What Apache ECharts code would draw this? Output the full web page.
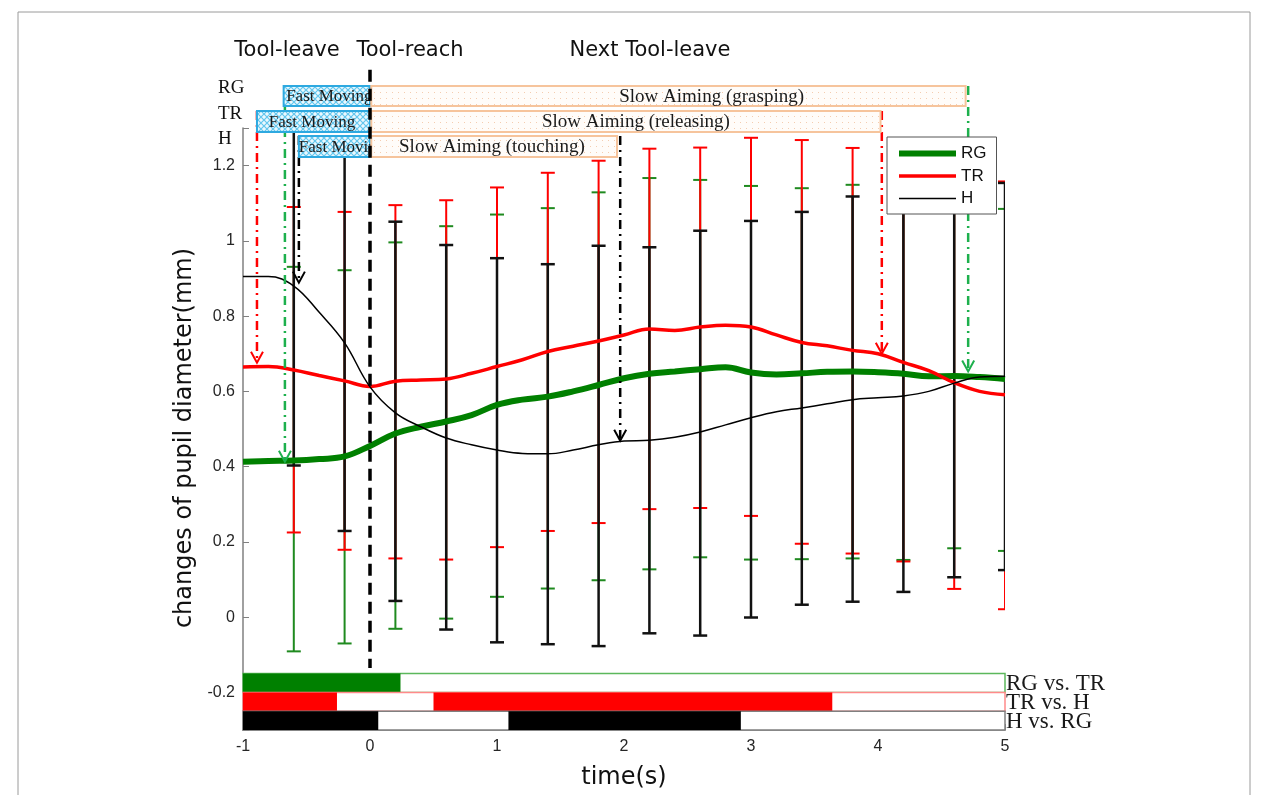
<!DOCTYPE html>
<html>
<head>
<meta charset="utf-8">
<script src="https://cdn.jsdelivr.net/npm/echarts@6/dist/echarts.min.js"></script>
<style>
html, body { margin: 0; padding: 0; background: #fff; }
#chart { width: 1261px; height: 795px; }
</style>
</head>
<body>
<div id="chart"></div>
<script>
// ---- data ----
var timeS  = [-1.0,-0.8,-0.6,-0.4,-0.2,0.0,0.2,0.4,0.6,0.8,1.0,1.2,1.4,1.6,1.8,2.0,2.2,2.4,2.6,2.8,3.0,3.2,3.4,3.6,3.8,4.0,4.2,4.4,4.6,4.8,5.0];
var meanRG = [0.413,0.415,0.416,0.420,0.427,0.455,0.488,0.506,0.520,0.537,0.564,0.578,0.586,0.600,0.617,0.635,0.647,0.653,0.659,0.664,0.650,0.645,0.648,0.652,0.653,0.651,0.647,0.640,0.641,0.638,0.633];
var meanTR = [0.665,0.666,0.657,0.642,0.628,0.613,0.627,0.630,0.633,0.648,0.666,0.684,0.706,0.720,0.734,0.750,0.766,0.762,0.771,0.776,0.771,0.750,0.730,0.721,0.709,0.700,0.677,0.655,0.623,0.600,0.591];
var meanH  = [0.905,0.905,0.880,0.810,0.729,0.612,0.543,0.506,0.476,0.458,0.444,0.435,0.434,0.444,0.458,0.468,0.470,0.478,0.492,0.511,0.530,0.546,0.556,0.567,0.578,0.583,0.588,0.600,0.622,0.638,0.640];

// error bars (every 0.4 s)
var errX   = [-0.6,-0.2,0.2,0.6,1.0,1.4,1.8,2.2,2.6,3.0,3.4,3.8,4.2,4.6,5.0];
var rgHigh = [0.931,0.922,0.996,1.039,1.070,1.087,1.129,1.167,1.162,1.146,1.140,1.149,1.140,1.100,1.085];
var rgLow  = [-0.091,-0.070,-0.031,-0.004,0.054,0.076,0.098,0.127,0.159,0.153,0.154,0.156,0.152,0.183,0.176];
var trHigh = [1.090,1.077,1.095,1.108,1.142,1.181,1.213,1.245,1.248,1.274,1.268,1.247,1.190,1.185,1.158];
var trLow  = [0.225,0.179,0.156,0.153,0.186,0.229,0.250,0.287,0.290,0.269,0.195,0.169,0.148,0.075,0.021];
var hHigh  = [1.360,1.250,1.051,0.989,0.954,0.938,0.987,0.983,1.027,1.053,1.077,1.118,1.110,1.130,1.154];
var hLow   = [0.403,0.229,0.043,-0.033,-0.067,-0.072,-0.077,-0.043,-0.049,-0.001,0.033,0.041,0.067,0.106,0.125];

// movement phases per condition
var phaseRow     = ['RG', 'RG', 'TR', 'TR', 'H', 'H'];
var phaseName    = ['Fast Moving', 'Slow Aiming (grasping)', 'Fast Moving', 'Slow Aiming (releasing)', 'Fast Moving', 'Slow Aiming (touching)'];
var phaseStart   = [-0.68, 0.01, -0.89, 0.01, -0.56, 0.01];
var phaseEnd     = [0.0, 4.69, 0.0, 4.02, 0.0, 1.945];
var phaseLabelAt = [-0.32, 2.69, -0.457, 2.094, -0.22, 0.96];

// events (dash-dot arrows)
var eventRow = ['TR', 'RG', 'H', 'H', 'TR', 'RG'];
var eventX   = [-0.89, -0.67, -0.56, 1.97, 4.03, 4.71];
var eventTip = [0.676, 0.413, 0.889, 0.469, 0.700, 0.653];

// significance bars
var sigName  = ['RG vs. TR', 'TR vs. H', 'H vs. RG'];
var sigStart = [[-1], [-1, 0.50], [-1, 1.09]];
var sigEnd   = [[0.24], [-0.26, 3.64], [0.065, 2.92]];

var toolReachX = 0;
var yMin = -0.3, yMax = 1.3;

// ---- styling ----
var colRG = '#008000', colTR = '#ff0000', colH = '#000000';
var arrowCol = { RG: '#1db04d', TR: '#ff0000', H: '#000000' };
var rowIdx = { RG: 0, TR: 1, H: 2 };
var rowTopOff = [-42, -17, 8];   // px relative to grid top
var rowH = [20, 21, 21];
var sigFill = ['#008000', '#ff0000', '#000000'];
var sigEdge = ['#5cb85c', '#ff8a8a', '#808080'];
var serif = '"Liberation Serif", "Times New Roman", serif';
var sans = '"Liberation Sans", Arial, sans-serif';

function makePattern(bg, fg, kind) {
	var c = document.createElement('canvas');
	c.width = 6; c.height = 6;
	var g = c.getContext('2d');
	g.fillStyle = bg; g.fillRect(0, 0, 6, 6);
	g.strokeStyle = fg; g.fillStyle = fg;
	if (kind === 'cross') {
		g.lineWidth = 1.2;
		g.beginPath();
		g.moveTo(0, 0); g.lineTo(6, 6);
		g.moveTo(6, 0); g.lineTo(0, 6);
		g.stroke();
	} else {
		g.fillRect(2, 2, 1, 1);
	}
	return c;
}
var blueHatch = makePattern('#eaf8fe', '#62c6ee', 'cross');
var peachDots = makePattern('#fffcf9', '#f4cdb0', 'dots');

// legend icon: a bar of given thickness centred in a 57x14 box
function barIcon(t) {
	var a = (14 - t) / 2, b = a + t;
	return 'path://M0,0M57,14M0,' + a + 'L57,' + a + 'L57,' + b + 'L0,' + b + 'Z';
}

function errorBarRender(color, width) {
	return function (params, api) {
		var x = api.value(0);
		var p0 = api.coord([x, api.value(1)]);
		var p1 = api.coord([x, api.value(2)]);
		var hw = 7;
		var st = { stroke: color, lineWidth: width };
		return {
			type: 'group',
			children: [
				{ type: 'line', shape: { x1: p0[0], y1: p0[1], x2: p1[0], y2: p1[1] }, style: st },
				{ type: 'line', shape: { x1: p0[0] - hw, y1: p0[1], x2: p0[0] + hw, y2: p0[1] }, style: st },
				{ type: 'line', shape: { x1: p1[0] - hw, y1: p1[1], x2: p1[0] + hw, y2: p1[1] }, style: st }
			]
		};
	};
}

function pairs(xs, ys) {
	return xs.map(function (x, i) { return [x, ys[i]]; });
}
function triples(xs, lo, hi) {
	return xs.map(function (x, i) { return [x, lo[i], hi[i]]; });
}

// phase boxes
function renderPhase(params, api) {
	var i = params.dataIndex;
	var r = rowIdx[phaseRow[i]];
	var top = api.coord([0, yMax])[1] + rowTopOff[r];
	var x0 = api.coord([phaseStart[i], 0])[0];
	var x1 = api.coord([phaseEnd[i], 0])[0];
	var fast = phaseName[i] === 'Fast Moving';
	return {
		type: 'group',
		children: [
			{ type: 'rect', shape: { x: x0, y: top, width: x1 - x0, height: rowH[r] },
			  style: { fill: { image: fast ? blueHatch : peachDots, repeat: 'repeat' },
			           stroke: fast ? '#2ea9e0' : '#f6c49c', lineWidth: 2 } },
			{ type: 'text', style: { x: api.coord([phaseLabelAt[i], 0])[0], y: top + rowH[r] / 2 + 1,
			  text: phaseName[i], font: (fast ? '17px ' : '19px ') + serif, fill: '#1a1a1a',
			  align: 'center', verticalAlign: 'middle', textAlign: 'center', textVerticalAlign: 'middle' } }
		]
	};
}

// dash-dot event arrows
function renderEvent(params, api) {
	var i = params.dataIndex;
	var r = rowIdx[eventRow[i]];
	var col = arrowCol[eventRow[i]];
	var top = api.coord([0, yMax])[1] + rowTopOff[r];
	var tip = api.coord([eventX[i], eventTip[i]]);
	return {
		type: 'group',
		children: [
			{ type: 'line', shape: { x1: tip[0], y1: top, x2: tip[0], y2: tip[1] - 2 },
			  style: { stroke: col, lineWidth: 2.5, lineDash: [9, 5, 2, 5] } },
			{ type: 'polyline', shape: { points: [[tip[0] - 6, tip[1] - 11], [tip[0], tip[1]], [tip[0] + 6, tip[1] - 11]] },
			  style: { stroke: col, lineWidth: 2, fill: null } }
		]
	};
}

// significance rows
function renderSig(params, api) {
	var r = params.dataIndex;
	var yTop = api.coord([0, -0.15 - 0.05 * r])[1];
	var yBot = api.coord([0, -0.20 - 0.05 * r])[1];
	var xL = api.coord([-1, 0])[0], xR = api.coord([5, 0])[0];
	var kids = [
		{ type: 'rect', shape: { x: xL, y: yTop, width: xR - xL, height: yBot - yTop },
		  style: { fill: '#fff', stroke: sigEdge[r], lineWidth: 1.5 } }
	];
	sigStart[r].forEach(function (s, k) {
		var a = api.coord([s, 0])[0], b = api.coord([sigEnd[r][k], 0])[0];
		kids.push({ type: 'rect', shape: { x: a, y: yTop, width: b - a, height: yBot - yTop },
		            style: { fill: sigFill[r] } });
	});
	kids.push({ type: 'text', style: { x: xR + 1, y: (yTop + yBot) / 2 + 1, text: sigName[r],
		font: '23px ' + serif, fill: '#1a1a1a', align: 'left', verticalAlign: 'middle',
		textAlign: 'left', textVerticalAlign: 'middle' } });
	return { type: 'group', children: kids };
}

// tool-reach marker
function renderReach(params, api) {
	var a = api.coord([toolReachX, 1.455]);
	var b = api.coord([toolReachX, -0.135]);
	return { type: 'line', shape: { x1: a[0], y1: a[1], x2: b[0], y2: b[1] },
	         style: { stroke: '#000', lineWidth: 3.5, lineDash: [12, 7] } };
}

var chart = echarts.init(document.getElementById('chart'));

var txt = function (s, x, y, font, align) {
	return { type: 'text', x: x, y: y, silent: true,
	         style: { text: s, font: font, fill: '#111', align: align, verticalAlign: 'middle',
	                  textAlign: align, textVerticalAlign: 'middle' } };
};

var option = {
	animation: false,
	backgroundColor: '#fff',
	grid: { left: 243, top: 128, width: 762, height: 602, containLabel: false },
	legend: {
		data: [
			{ name: 'RG', icon: barIcon(6) },
			{ name: 'TR', icon: barIcon(3.5) },
			{ name: 'H', icon: barIcon(1.6) }
		],
		orient: 'vertical',
		left: 887, top: 137,
		padding: [8, 10, 7, 12],
		itemWidth: 57, itemHeight: 14, itemGap: 5.5,
		backgroundColor: '#fff', borderColor: '#555', borderWidth: 1,
		textStyle: { fontFamily: sans, fontSize: 17, color: '#111' },
		z: 20
	},
	xAxis: {
		type: 'value', min: -1, max: 5, interval: 1,
		name: 'time(s)', nameLocation: 'middle', nameGap: 36,
		nameTextStyle: { fontFamily: 'DejaVu Sans', fontSize: 24, color: '#111' },
		axisLine: { onZero: false, lineStyle: { color: '#808080', width: 1.5 } },
		axisTick: { inside: true, length: 6, lineStyle: { color: '#808080' } },
		axisLabel: { margin: 9, fontFamily: sans, fontSize: 16, color: '#262626' },
		splitLine: { show: false }
	},
	yAxis: {
		type: 'value', min: yMin, max: yMax, splitNumber: 8,
		name: 'changes of pupil diameter(mm)', nameLocation: 'middle', nameGap: 46,
		nameTextStyle: { fontFamily: 'DejaVu Sans', fontSize: 24, color: '#111', padding: [0, 18, 0, 0] },
		axisLine: { onZero: false, lineStyle: { color: '#808080', width: 1.5 } },
		axisTick: { inside: true, length: 6, lineStyle: { color: '#808080' } },
		axisLabel: {
			margin: 8, fontFamily: sans, fontSize: 16, color: '#262626',
			formatter: function (v) {
				if (Math.abs(v - yMin) < 1e-6 || Math.abs(v - yMax) < 1e-6) return '';
				return String(Math.round(v * 10) / 10);
			}
		},
		splitLine: { show: false }
	},
	graphic: [
		{ type: 'rect', shape: { x: 18, y: 12, width: 1232, height: 800 }, style: { fill: null, stroke: '#9a9a9a', lineWidth: 1 }, silent: true },
		txt('Tool-leave', 287, 51, '21px "DejaVu Sans"', 'center'),
		txt('Tool-reach', 410, 51, '21px "DejaVu Sans"', 'center'),
		txt('Next Tool-leave', 650, 51, '21px "DejaVu Sans"', 'center'),
		txt('RG', 218, 88, '19px ' + serif, 'left'),
		txt('TR', 218, 114, '19px ' + serif, 'left'),
		txt('H', 218, 139, '19px ' + serif, 'left')
	],
	series: [
		{ type: 'custom', name: 'errRG', renderItem: errorBarRender('#1f8a1f', 2), data: triples(errX, rgLow, rgHigh), clip: true, z: 2, silent: true },
		{ type: 'custom', name: 'errTR', renderItem: errorBarRender(colTR, 2), data: triples(errX, trLow, trHigh), clip: true, z: 2, silent: true },
		{ type: 'custom', name: 'errH', renderItem: errorBarRender('#111', 2.5), data: triples(errX, hLow, hHigh), clip: true, z: 2, silent: true },
		{ type: 'line', name: 'RG', data: pairs(timeS, meanRG), smooth: 0.4, symbol: 'none', lineStyle: { color: colRG, width: 6 }, itemStyle: { color: colRG }, z: 3 },
		{ type: 'line', name: 'TR', data: pairs(timeS, meanTR), smooth: 0.4, symbol: 'none', lineStyle: { color: colTR, width: 3.5 }, itemStyle: { color: colTR }, z: 3 },
		{ type: 'line', name: 'H', data: pairs(timeS, meanH), smooth: 0.4, symbol: 'none', lineStyle: { color: colH, width: 1.5 }, itemStyle: { color: colH }, z: 3 },
		{ type: 'custom', name: 'events', renderItem: renderEvent, data: pairs(eventX, eventTip), clip: false, z: 4, silent: true },
		{ type: 'custom', name: 'phases', renderItem: renderPhase, data: pairs(phaseStart, phaseEnd), clip: false, z: 5, silent: true },
		{ type: 'custom', name: 'reach', renderItem: renderReach, data: [[toolReachX, 0]], clip: false, z: 6, silent: true },
		{ type: 'custom', name: 'sig', renderItem: renderSig, data: [[0, 0], [0, 0], [0, 0]], clip: false, z: 6, silent: true }
	]
};

chart.setOption(option);
</script>
</body>
</html>
